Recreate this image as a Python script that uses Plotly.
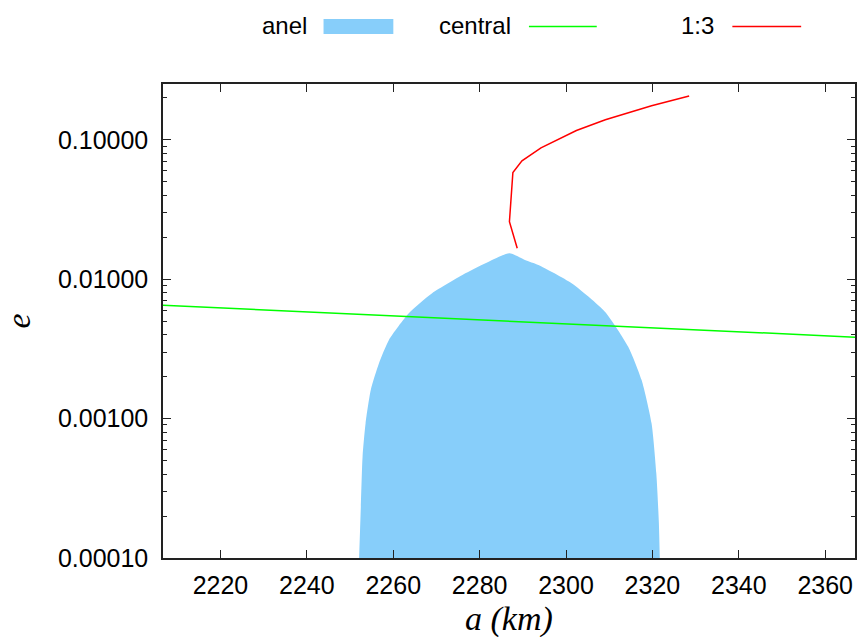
import plotly.graph_objects as go

# Stability region ("anel"): upper boundary e(a), closed down to the bottom of the axis
anel_a = [2252.1, 2252.5, 2252.9, 2253.6, 2254.8, 2256.7, 2259.0,
          2263.6, 2269.0, 2276.7, 2282.1, 2286.9,
          2290.5, 2293.6, 2301.3, 2309.0, 2314.4,
          2317.5, 2319.8, 2320.9, 2321.5, 2321.7]
anel_e = [0.0001, 0.000233, 0.000533, 0.000925, 0.001603, 0.00249, 0.00366,
          0.00569, 0.00792, 0.01102, 0.01336, 0.01535,
          0.01374, 0.01264, 0.00935, 0.00585, 0.00328,
          0.00189, 0.000925, 0.000406, 0.000177, 0.0001]

# Central body eccentricity curve
central_a = [2206.7, 2366.9]
central_e = [0.0065, 0.00384]

# 1:3 resonance location
res13_a = [2288.7, 2286.9, 2287.7, 2289.8, 2294.2, 2302.4, 2309.1, 2319.8, 2328.5]
res13_e = [0.01665, 0.02587, 0.0582, 0.0706, 0.0876, 0.1166, 0.139, 0.1755, 0.206]

x_ticks = [2220, 2240, 2260, 2280, 2300, 2320, 2340, 2360]
y_ticks = [0.0001, 0.001, 0.01, 0.1]
y_ticktext = ["0.00010", "0.00100", "0.01000", "0.10000"]

legend_names = ["anel", "central", "1:3"]
fill_color = "#87cefa"
green = "#00ff00"
red = "#ff0000"
axis_color = "#222222"

W, H = 859, 637
L, R, T, B = 163, 857, 84, 558


def px_x(p):
    return (p - L) / (R - L)


def px_y(p):
    return (B - p) / (B - T)


fig = go.Figure()
fig.add_trace(go.Scatter(x=anel_a, y=anel_e, mode="lines", fill="toself",
                         fillcolor=fill_color,
                         line=dict(width=0, color=fill_color, shape="spline", smoothing=0.6),
                         name=legend_names[0], hoverinfo="skip"))
fig.add_trace(go.Scatter(x=central_a, y=central_e, mode="lines",
                         line=dict(color=green, width=1.5), name=legend_names[1]))
fig.add_trace(go.Scatter(x=res13_a, y=res13_e, mode="lines",
                         line=dict(color=red, width=1.5), name=legend_names[2]))

tick_font = dict(family="Liberation Sans, Arial, sans-serif", size=25, color="black")

minor_vals = [k * 10.0 ** d for d in range(-4, 0) for k in range(2, 10)]

fig.update_xaxes(range=[2206.7, 2366.9], tickmode="array", tickvals=x_ticks,
                 ticks="inside", ticklen=8, tickwidth=1.2, tickcolor=axis_color,
                 showline=True, linecolor=axis_color, linewidth=1.5, mirror="allticks",
                 showgrid=False, zeroline=False, tickfont=tick_font, ticklabelstandoff=4)
fig.update_yaxes(type="log", range=[-4, -0.6], tickmode="array", tickvals=y_ticks,
                 ticktext=y_ticktext, ticks="inside", ticklen=8, tickwidth=1.2,
                 tickcolor=axis_color, showline=True, linecolor=axis_color, linewidth=1.5,
                 mirror="allticks", showgrid=False, zeroline=False, tickfont=tick_font,
                 ticklabelstandoff=8,
                 minor=dict(tickmode="array", tickvals=minor_vals, ticks="inside",
                            ticklen=4, tickwidth=1.2, tickcolor=axis_color, showgrid=False))

# Axis titles
title_font = dict(family="Liberation Serif, Times New Roman, serif", size=34, color="black")
annotations = [
    dict(text="<i>a (km)</i>", x=0.5, y=px_y(619), xref="paper", yref="paper",
         xanchor="center", yanchor="middle", showarrow=False, font=title_font),
    dict(text="<i>e</i>", x=px_x(18), y=0.5, xref="paper", yref="paper", textangle=-90,
         xanchor="center", yanchor="middle", showarrow=False, font=title_font),
]

# Key along the top: label text followed by its sample
legend_font = dict(family="Liberation Sans, Arial, sans-serif", size=24, color="black")
key_text_right = [309, 514, 718]
for name, xr in zip(legend_names, key_text_right):
    annotations.append(dict(text=name, x=px_x(xr), y=px_y(26), xref="paper", yref="paper",
                            xanchor="right", yanchor="middle", showarrow=False,
                            font=legend_font))

shapes = [
    dict(type="rect", xref="paper", yref="paper", x0=px_x(324), x1=px_x(394),
         y0=px_y(34), y1=px_y(19), fillcolor=fill_color, line=dict(width=0)),
    dict(type="line", xref="paper", yref="paper", x0=px_x(530), x1=px_x(598),
         y0=px_y(26.5), y1=px_y(26.5), line=dict(color=green, width=1.5)),
    dict(type="line", xref="paper", yref="paper", x0=px_x(734), x1=px_x(803),
         y0=px_y(26.5), y1=px_y(26.5), line=dict(color=red, width=1.5)),
]

fig.update_layout(width=W, height=H, margin=dict(l=L, r=W - R, t=T, b=H - B),
                  paper_bgcolor="white", plot_bgcolor="white", showlegend=False,
                  annotations=annotations, shapes=shapes)

fig.write_html("out.html")
